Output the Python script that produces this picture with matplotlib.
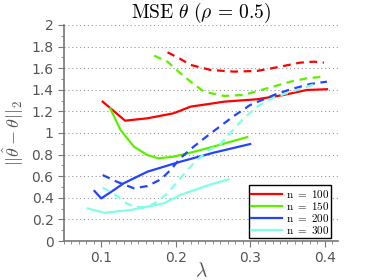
import numpy as np
import matplotlib
matplotlib.use('Agg')
import matplotlib.pyplot as plt
from matplotlib.ticker import MultipleLocator

plt.rcParams['mathtext.fontset'] = 'cm'

# values (lambda, error); solid and dashed per n
x100 = [0.102, 0.132, 0.162, 0.197, 0.220, 0.244, 0.265, 0.309, 0.345, 0.376, 0.403]
y100 = [1.29, 1.114, 1.136, 1.182, 1.244, 1.268, 1.29, 1.312, 1.352, 1.398, 1.405]
x100d = [0.189, 0.205, 0.220, 0.247, 0.278, 0.309, 0.336, 0.367, 0.385, 0.399]
y100d = [1.747, 1.69, 1.63, 1.583, 1.568, 1.574, 1.608, 1.651, 1.66, 1.651]

x150 = [0.112, 0.126, 0.144, 0.162, 0.177, 0.197, 0.220, 0.251, 0.296]
y150 = [1.228, 1.028, 0.873, 0.796, 0.766, 0.781, 0.818, 0.875, 0.962]
x150d = [0.171, 0.189, 0.205, 0.220, 0.238, 0.265, 0.291, 0.323, 0.354, 0.376, 0.399]
y150d = [1.716, 1.66, 1.56, 1.475, 1.382, 1.343, 1.352, 1.414, 1.475, 1.506, 1.521]

x200 = [0.091, 0.100, 0.117, 0.130, 0.162, 0.206, 0.251, 0.300]
y200 = [0.463, 0.395, 0.472, 0.534, 0.642, 0.734, 0.818, 0.898]
x200d = [0.102, 0.121, 0.144, 0.162, 0.180, 0.193, 0.206, 0.224, 0.244, 0.256,
         0.278, 0.300, 0.332, 0.354, 0.381, 0.403]
y200d = [0.611, 0.549, 0.488, 0.509, 0.571, 0.657, 0.766, 0.873, 0.981, 1.043,
         1.157, 1.259, 1.352, 1.404, 1.454, 1.475]

x300 = [0.082, 0.104, 0.139, 0.184, 0.206, 0.244, 0.271]
y300 = [0.302, 0.262, 0.287, 0.349, 0.426, 0.518, 0.571]
x300d = [0.102, 0.117, 0.130, 0.144, 0.162, 0.175, 0.189, 0.206, 0.224, 0.244,
         0.259, 0.287, 0.309, 0.332, 0.363, 0.390]
y300d = [0.494, 0.441, 0.364, 0.318, 0.312, 0.364, 0.441, 0.58, 0.72, 0.843,
         0.889, 1.105, 1.244, 1.33, 1.398, 1.46]

labels = ['n = 100', 'n = 150', 'n = 200', 'n = 300']
colors = ['#ff0000', '#5cf000', '#2244ff', '#80ffe6']

fig = plt.figure(figsize=(3.74, 2.8), dpi=100)
ax = fig.add_axes([0.171, 0.139, 0.733, 0.772])

solid = [(x100, y100), (x150, y150), (x200, y200), (x300, y300)]
dashed = [(x100d, y100d), (x150d, y150d), (x200d, y200d), (x300d, y300d)]

for (xs, ys), c, lab in zip(solid, colors, labels):
    ax.plot(xs, ys, color=c, lw=1.6, label=r'$\mathrm{' + lab.replace(' ', r'\ ') + '}$')
for (xs, ys), c in zip(dashed, colors):
    ax.plot(xs, ys, color=c, lw=1.6, ls=(0, (3.5, 2.5)))

ax.set_xlim(0.05, 0.418)
ax.set_ylim(0, 2)
ax.xaxis.set_minor_locator(MultipleLocator(0.01))
ax.yaxis.set_minor_locator(MultipleLocator(0.1))
ax.set_yticks(np.arange(0, 2.01, 0.2))
ax.set_yticklabels(['0', '0.2', '0.4', '0.6', '0.8', '1', '1.2', '1.4', '1.6', '1.8', '2'])
ax.set_xticks([0.1, 0.2, 0.3, 0.4])
ax.set_xticklabels(['0.1', '0.2', '0.3', '0.4'])

for yv in np.arange(0.2, 2.01, 0.2):
    ax.axhline(yv, color='#999999', lw=0.8, ls=(0, (1, 2.5)), zorder=0)

for s in ['top', 'right']:
    ax.spines[s].set_visible(False)
for s in ['left', 'bottom']:
    ax.spines[s].set_color('#777777')
    ax.spines[s].set_linewidth(1.2)
ax.tick_params(which='both', direction='out', colors='#777777', labelcolor='#555555', labelsize=10)
ax.tick_params(which='major', length=4)
ax.tick_params(which='minor', length=2)

ax.set_title(r'$\mathrm{MSE}\ \theta\ (\rho\,=\,0.5)$', fontsize=14, pad=5)
ax.set_ylabel(r'$||\hat{\theta} - \theta||_2$', fontsize=13, color='#555555', labelpad=4)
ax.set_xlabel(r'$\lambda$', fontsize=14, color='#555555', labelpad=-3)

leg = ax.legend(loc='lower right', bbox_to_anchor=(0.975, 0.015), fontsize=8,
                frameon=True, fancybox=False, edgecolor='black', framealpha=1,
                handlelength=2.8, handletextpad=0.3, labelspacing=0.0,
                borderpad=0.2, borderaxespad=0)
leg.get_frame().set_linewidth(1.0)

fig.savefig('out.png', dpi=100)
